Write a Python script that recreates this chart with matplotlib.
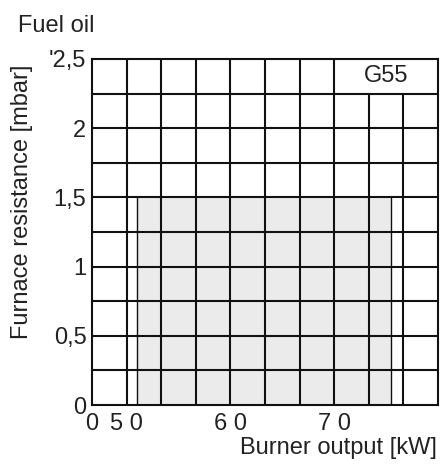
import matplotlib
matplotlib.use("Agg")
import matplotlib.pyplot as plt

plt.rcParams['font.family'] = ['Liberation Sans', 'DejaVu Sans']

# grid of the diagram (kW / mbar)
x_min, x_max = 46.67, 80.0
y_min, y_max = 0.0, 2.5
grid_x = [50.0, 53.33, 56.67, 60.0, 63.33, 66.67, 70.0, 73.33, 76.67]
grid_x_top = [50.0, 53.33, 56.67, 60.0, 63.33, 66.67, 70.0]   # these reach the top row
grid_y = [0.25, 0.5, 0.75, 1.0, 1.25, 1.5, 1.75, 2.0, 2.25]

# working field of the burner
field_x = [51.0, 75.5]
field_y = [0.0, 1.5]

x_ticks = [46.67, 50, 60, 70]
x_labels = ["0", "5 0", "6 0", "7 0"]
y_ticks = [0, 0.5, 1, 1.5, 2, 2.5]
y_labels = ["0", "0,5", "1", "1,5", "2", "'2,5"]

W, H = 441, 466
fig = plt.figure(figsize=(W / 100, H / 100), dpi=100)
ax = fig.add_axes([92 / W, 1 - 405 / H, (438 - 92) / W, (405 - 59) / H])
ax.set_xlim(x_min, x_max)
ax.set_ylim(y_min, y_max)

lc = '#111111'
lw = 1.5

ax.fill_between(field_x, field_y[0], field_y[1], color='#ebebeb', lw=0, zorder=1)
ax.vlines(field_x, field_y[0], field_y[1], color=lc, lw=1.0, zorder=2)

for gx in grid_x:
    top = y_max if gx in grid_x_top else 2.25
    ax.vlines(gx, y_min, top, color=lc, lw=lw, zorder=3)
ax.hlines(grid_y, x_min, x_max, color=lc, lw=lw, zorder=3)

for s in ax.spines.values():
    s.set_linewidth(lw)
    s.set_color(lc)

# label box in the top right cells
ax.text((70.0 + x_max) / 2, 2.375, "G55", ha='center', va='center',
        fontsize=17, color='#222222')

ax.set_xticks(x_ticks, x_labels, fontsize=17, color='#222222')
ax.set_yticks(y_ticks, y_labels, fontsize=17, color='#222222')
ax.tick_params(axis='both', length=0)
ax.tick_params(axis='x', pad=6)
ax.tick_params(axis='y', pad=4)

fig.text(18 / W, 1 - 32 / H, "Fuel oil", fontsize=17, color='#222222', va='baseline')
fig.text(22 / W, 1 - 202 / H, "Furnace resistance [mbar]", rotation=90,
         fontsize=17, color='#222222', ha='center', va='center')
fig.text(437 / W, 1 - 454 / H, "Burner output [kW]", fontsize=17, color='#222222',
         ha='right', va='baseline')

fig.savefig("out.png", dpi=100)
